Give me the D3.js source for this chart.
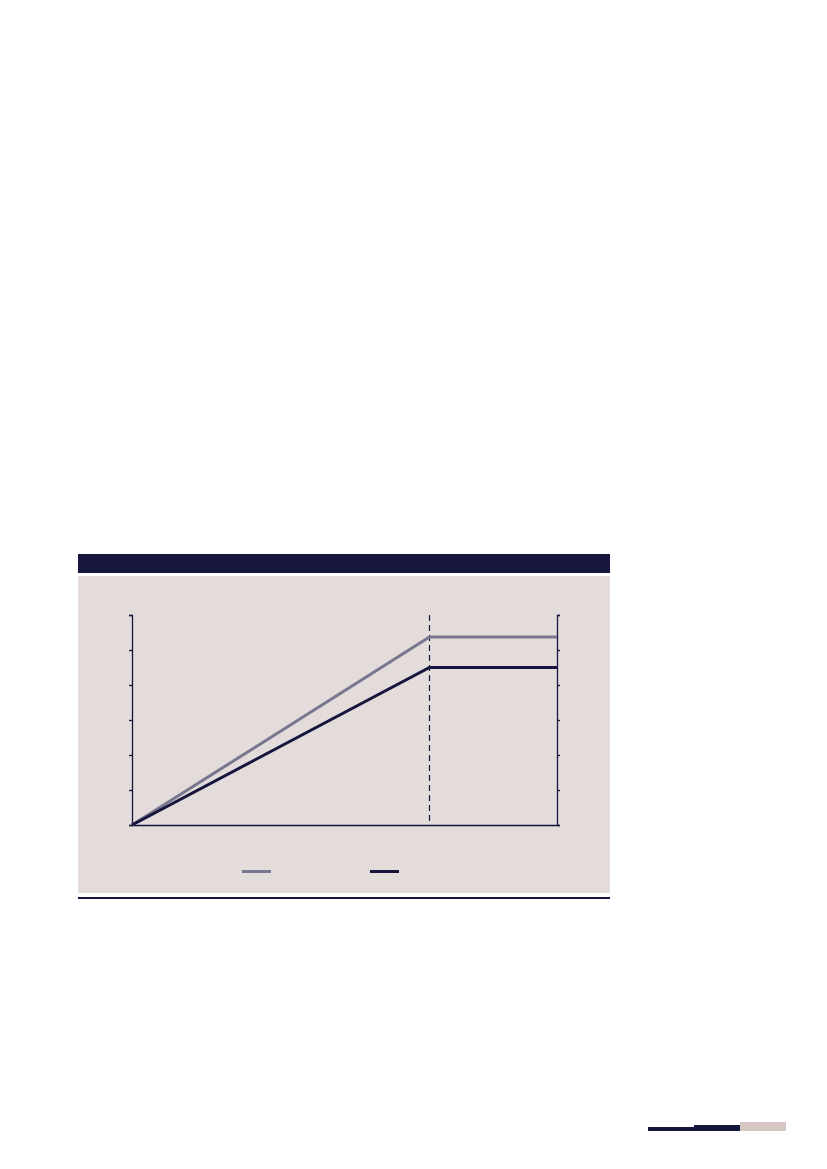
<!DOCTYPE html>
<html><head><meta charset="utf-8">
<script src="https://cdn.jsdelivr.net/npm/d3@7"></script>
<style>html,body{margin:0;padding:0;background:#fff;}svg{display:block;}</style>
</head><body>
<svg id="c" width="827" height="1169"></svg>
<script>
// Data
const xValues = [0, 7, 10];
const seriesA = [0, 5.37, 5.37];   // grey line
const seriesB = [0, 4.5, 4.5];     // dark line
const yTicks = [0, 1, 2, 3, 4, 5, 6];
const breakX = [7];

const svg = d3.select("#c");
const dark = "#15153d", grey = "#77778f", panel = "#e3dcda";

// header bar & panel
svg.append("rect").attr("x",78).attr("y",554).attr("width",532).attr("height",19).attr("fill",dark);
svg.append("rect").attr("x",78).attr("y",576).attr("width",532).attr("height",317).attr("fill",panel);
svg.append("rect").attr("x",78).attr("y",897).attr("width",532).attr("height",2).attr("fill",dark);

const x = d3.scaleLinear().domain([0,10]).range([132,557]);
const y = d3.scaleLinear().domain([0,6]).range([825,615]);

// dashed break line
svg.selectAll(".brk").data(breakX).join("line")
  .attr("x1",d=>Math.floor(x(d))+0.5).attr("x2",d=>Math.floor(x(d))+0.5).attr("y1",y(6)).attr("y2",y(0))
  .attr("stroke",dark).attr("stroke-width",1.2).attr("stroke-dasharray","6,4");

// axes
const gL = svg.append("g").attr("transform",`translate(${x(0)},0)`)
  .call(d3.axisLeft(y).tickValues(yTicks).tickSize(3).tickFormat(""));
const gR = svg.append("g").attr("transform",`translate(${x(10)},0)`)
  .call(d3.axisRight(y).tickValues(yTicks).tickSize(3).tickFormat(""));
const gB = svg.append("g").attr("transform",`translate(0,${y(0)})`)
  .call(d3.axisBottom(x).tickValues([]).tickSizeOuter(0).tickFormat(""));
[gL,gR,gB].forEach(g=>{g.selectAll("path,line").attr("stroke",dark).attr("stroke-width",1.3);});
gB.select("path").attr("d",`M${x(0)},0.5H${x(10)}`);

const line = d3.line().x((d,i)=>x(xValues[i])).y(d=>y(d));
svg.append("path").datum(seriesA).attr("d",line).attr("fill","none").attr("stroke",grey).attr("stroke-width",3);
svg.append("path").datum(seriesB).attr("d",line).attr("fill","none").attr("stroke",dark).attr("stroke-width",3);

// legend
const legend = [{c:grey,x:242},{c:dark,x:370}];
svg.selectAll(".lg").data(legend).join("line")
  .attr("x1",d=>d.x).attr("x2",d=>d.x+29).attr("y1",871.5).attr("y2",871.5)
  .attr("stroke",d=>d.c).attr("stroke-width",3);

// footer decoration
svg.append("rect").attr("x",648).attr("y",1127).attr("width",46).attr("height",4).attr("fill",dark);
svg.append("rect").attr("x",694).attr("y",1125).attr("width",46).attr("height",6).attr("fill",dark);
svg.append("rect").attr("x",740).attr("y",1122).attr("width",46).attr("height",9).attr("fill","#d5c6c3");
</script>
</body></html>
